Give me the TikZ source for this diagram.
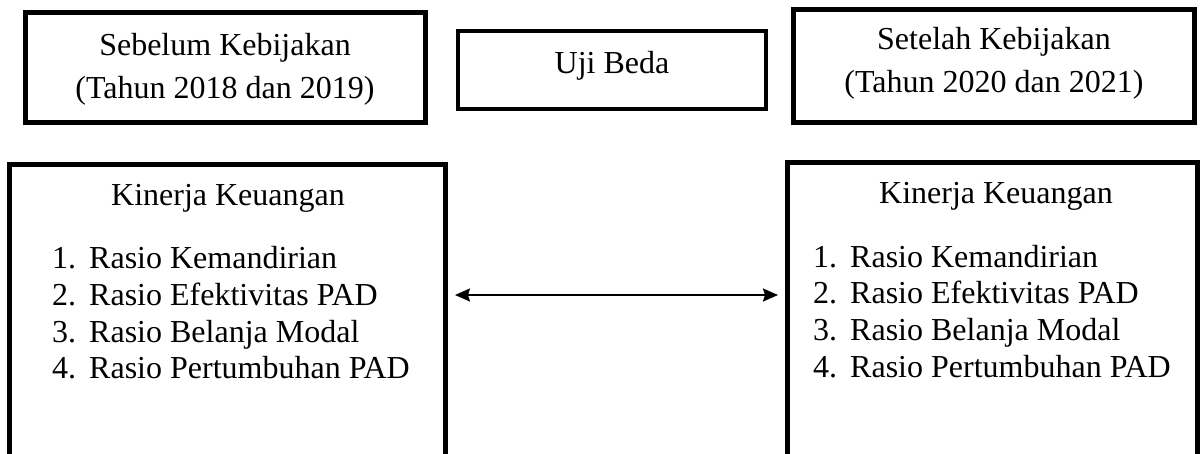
\documentclass[tikz,border=0pt]{standalone}
\usepackage{fontspec}
\setmainfont{Liberation Serif}
\usetikzlibrary{arrows.meta}
\tikzset{
  box/.style={draw=black, line width=5pt, fill=none, inner sep=0pt},
  thinbox/.style={draw=black, line width=4pt, fill=none, inner sep=0pt},
  txt/.style={font=\fontsize{32}{38}\selectfont, inner sep=0pt, text=black},
  conn/.style={line width=2pt, {Stealth[length=15pt,width=13pt,inset=2pt]}-{Stealth[length=15pt,width=13pt,inset=2pt]}}
}
\begin{document}
\begin{tikzpicture}[x=1pt,y=-1pt]
\useasboundingbox (0,0) rectangle (1203,453);
\clip (0,0) rectangle (1203,453);
\fill[white] (0,0) rectangle (1203,453);
% top boxes
\node[box, minimum width=400pt, minimum height=110pt] (b1) at (225.5,67.5) {};
\node[thinbox, minimum width=308pt, minimum height=78pt] (b2) at (612,70) {};
\node[box, minimum width=401pt, minimum height=113pt] (b3) at (994,66) {};
% bottom boxes (cut off at the lower edge)
\node[box, minimum width=436pt, minimum height=320pt] (b4) at (227.5,324.5) {};
\node[box, minimum width=410pt, minimum height=320pt] (b5) at (992.5,322.5) {};
% texts
\node[txt, anchor=base] (t1a) at (225,55) {Sebelum Kebijakan};
\node[txt, anchor=base] (t1b) at (225,98) {(Tahun 2018 dan 2019)};
\node[txt, anchor=base] (t2) at (612,73) {Uji Beda};
\node[txt, anchor=base] (t3a) at (994,49) {Setelah Kebijakan};
\node[txt, anchor=base] (t3b) at (994,92) {(Tahun 2020 dan 2021)};
\node[txt, anchor=base] (h4) at (228,205) {Kinerja Keuangan};
\node[txt, anchor=base west] (n41) at (52,268) {1.};
\node[txt, anchor=base west] (r41) at (89,268) {Rasio Kemandirian};
\node[txt, anchor=base west] (n42) at (52,305) {2.};
\node[txt, anchor=base west] (r42) at (89,305) {Rasio Efektivitas PAD};
\node[txt, anchor=base west] (n43) at (52,342) {3.};
\node[txt, anchor=base west] (r43) at (89,342) {Rasio Belanja Modal};
\node[txt, anchor=base west] (n44) at (52,378) {4.};
\node[txt, anchor=base west] (r44) at (89,378) {Rasio Pertumbuhan PAD};
\node[txt, anchor=base] (h5) at (996,203) {Kinerja Keuangan};
\node[txt, anchor=base west] (n51) at (813,267) {1.};
\node[txt, anchor=base west] (r51) at (850,267) {Rasio Kemandirian};
\node[txt, anchor=base west] (n52) at (813,303) {2.};
\node[txt, anchor=base west] (r52) at (850,303) {Rasio Efektivitas PAD};
\node[txt, anchor=base west] (n53) at (813,340) {3.};
\node[txt, anchor=base west] (r53) at (850,340) {Rasio Belanja Modal};
\node[txt, anchor=base west] (n54) at (813,377) {4.};
\node[txt, anchor=base west] (r54) at (850,377) {Rasio Pertumbuhan PAD};
% connector
\coordinate (ay) at (0,295);
\draw[conn, shorten <=7pt, shorten >=7pt] (b4.east |- ay) -- (b5.west |- ay);
\end{tikzpicture}
\end{document}
